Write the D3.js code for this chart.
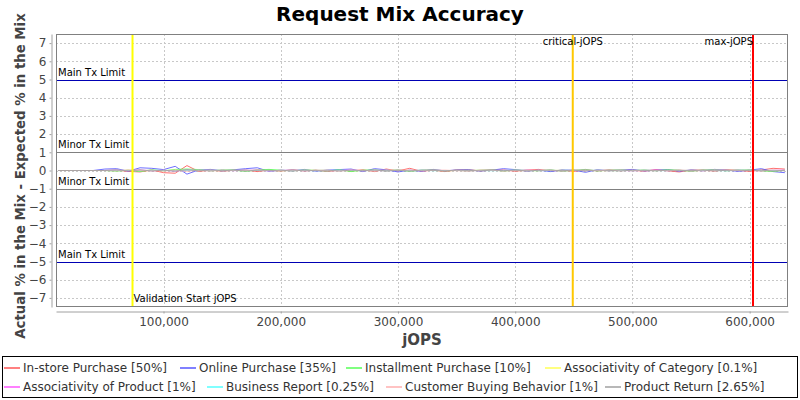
<!DOCTYPE html>
<html>
<head>
<meta charset="utf-8">
<script src="https://cdn.jsdelivr.net/npm/d3@7"></script>
<style>
  body { margin: 0; background: #fff; }
  svg { font-family: "DejaVu Sans", sans-serif; }
</style>
</head>
<body>
<script>
// jOPS steps of the RT curve
var jops = [10000, 20000, 30000, 40000, 50000, 60000, 70000, 80000, 90000, 100000,
  110000, 120000, 130000, 140000, 150000, 160000, 170000, 180000, 190000, 200000,
  210000, 220000, 230000, 240000, 250000, 260000, 270000, 280000, 290000, 300000,
  310000, 320000, 330000, 340000, 350000, 360000, 370000, 380000, 390000, 400000,
  410000, 420000, 430000, 440000, 450000, 460000, 470000, 480000, 490000, 500000,
  510000, 520000, 530000, 540000, 550000, 560000, 570000, 580000, 590000, 600000,
  610000, 620000, 630000];

var seriesNames = ["In-store Purchase [50%]", "Online Purchase [35%]", "Installment Purchase [10%]",
  "Associativity of Category [0.1%]", "Associativity of Product [1%]", "Business Report [0.25%]",
  "Customer Buying Behavior [1%]", "Product Return [2.65%]"];
var seriesColors = ["#ff5555", "#5555ff", "#55ff55", "#ffff55", "#ff55ff", "#55ffff", "#ffafaf", "#a0a0a0"];

var inStore = [0, 0, 0, 0, 0, 0.02, -0.05, -0.08, 0.03, -0.12,
  -0.15, 0.27, -0.05, 0.02, -0.04, 0.01, 0.03, -0.06, 0.02, -0.03,
  0.04, -0.02, 0.01, -0.05, 0.02, -0.03, 0.04, -0.06, 0.08, -0.02,
  0.12, -0.04, 0.02, -0.06, 0.03, 0.05, -0.02, 0.01, 0.03, -0.04,
  0.02, 0.06, -0.03, 0.02, -0.05, 0.04, -0.02, 0.03, -0.01, 0.02,
  -0.04, 0.05, -0.02, -0.08, 0.03, 0.02, -0.03, 0.04, 0.01, -0.05,
  0.03, 0.12, 0.08];
var online = [0, 0, 0, 0, 0.08, 0.1, -0.04, 0.15, 0.12, 0.05,
  0.23, -0.2, 0.03, 0.06, -0.02, 0.04, 0.1, 0.15, -0.05, 0.02,
  -0.03, 0.06, -0.04, 0.02, 0.05, 0.08, -0.06, 0.1, 0.04, -0.08,
  0.02, -0.05, 0.06, -0.02, 0.03, 0.04, -0.03, 0.02, 0.1, 0.05,
  -0.04, 0.02, -0.06, 0.03, 0.02, -0.1, 0.04, -0.02, 0.03, 0.06,
  -0.03, 0.02, 0.05, -0.04, 0.03, -0.02, 0.06, 0.03, -0.05, 0.02,
  0.1, -0.06, -0.12];
var installment = [0, 0, 0, 0, 0, -0.04, 0.02, -0.06, 0.04, -0.02,
  0.06, 0.08, 0.05, -0.03, 0.04, 0.02, -0.05, 0.03, 0.06, 0.02,
  -0.02, 0.03, 0.01, -0.04, 0.05, -0.06, 0.02, 0.03, -0.03, 0.04,
  -0.05, 0.02, 0.04, -0.02, 0.01, -0.03, 0.02, 0.05, -0.04, 0.03,
  0.01, -0.02, 0.04, -0.05, 0.02, 0.06, -0.03, 0.02, 0.04, -0.02,
  0.03, -0.01, 0.04, 0.02, -0.05, 0.03, 0.05, -0.02, 0.02, 0.04,
  -0.03, -0.05, 0.02];
var assocCategory = [0, 0, 0, 0, 0, 0, 0.01, 0, -0.01, 0,
  0.01, 0, 0, -0.01, 0, 0.01, 0, 0, 0, -0.01,
  0, 0, 0.01, 0, 0, 0, -0.01, 0, 0, 0.01,
  0, 0, 0, -0.01, 0, 0, 0.01, 0, 0, 0,
  -0.01, 0, 0, 0.01, 0, 0, 0, -0.01, 0, 0,
  0.01, 0, 0, 0, -0.01, 0, 0, 0.01, 0, 0,
  0, -0.01, 0];
var assocProduct = [0, 0, 0, 0, 0, 0.02, -0.01, 0.03, -0.02, 0.01,
  -0.03, 0.02, 0.01, -0.02, 0.02, -0.01, 0.01, 0.02, -0.02, 0.01,
  0.02, -0.01, 0.01, -0.02, 0.01, 0.02, -0.01, 0.01, -0.02, 0.02,
  -0.01, 0.01, 0.02, -0.01, 0.01, -0.02, 0.01, 0.02, -0.01, 0.01,
  0.02, -0.01, 0.01, -0.02, 0.01, 0.02, -0.01, 0.01, 0.01, -0.02,
  0.01, 0.02, -0.01, 0.01, -0.02, 0.01, 0.02, -0.01, 0.01, 0.01,
  -0.02, 0.01, 0.02];
var businessReport = [0, 0, 0, 0, 0, 0.01, 0, -0.01, 0.01, 0,
  -0.01, 0.01, 0, 0.01, -0.01, 0, 0.01, 0, -0.01, 0,
  0.01, 0, -0.01, 0, 0.01, 0, 0, -0.01, 0.01, 0,
  0, 0.01, -0.01, 0, 0, 0.01, 0, -0.01, 0, 0.01,
  0, 0, -0.01, 0.01, 0, 0, 0.01, -0.01, 0, 0,
  0.01, 0, -0.01, 0, 0.01, 0, 0, -0.01, 0.01, 0,
  0, 0.01, -0.01];
var buyingBehavior = [0, 0, 0, 0, 0, -0.02, 0.03, -0.01, 0.02, -0.03,
  0.02, -0.04, 0.01, 0.02, -0.02, 0.01, -0.01, 0.03, -0.02, 0.01,
  -0.02, 0.02, -0.01, 0.01, -0.03, 0.02, 0.01, -0.02, 0.03, -0.01,
  0.02, -0.02, 0.01, 0.02, -0.01, -0.02, 0.01, 0.02, -0.03, 0.01,
  -0.01, 0.02, 0.01, -0.02, 0.02, -0.01, 0.01, -0.02, 0.02, 0.01,
  -0.02, 0.01, -0.01, 0.02, 0.01, -0.02, 0.01, 0.02, -0.01, 0.01,
  -0.02, 0.03, -0.02];
var productReturn = [0, 0, 0, 0, 0, 0.03, -0.02, 0.04, -0.03, 0.02,
  -0.04, 0.05, -0.02, 0.03, -0.01, 0.02, -0.03, 0.02, 0.01, -0.02,
  0.03, -0.02, 0.01, 0.02, -0.03, 0.02, -0.01, 0.03, -0.02, 0.01,
  -0.03, 0.02, 0.01, -0.02, 0.02, 0.01, -0.02, 0.03, -0.01, 0.02,
  -0.02, 0.01, 0.02, -0.01, 0.01, -0.02, 0.02, 0.01, -0.03, 0.02,
  0.01, -0.02, 0.02, 0.01, -0.01, 0.02, -0.02, 0.01, 0.02, -0.01,
  0.02, -0.03, 0.01];

var seriesValues = [inStore, online, installment, assocCategory, assocProduct,
  businessReport, buyingBehavior, productReturn];

var xDomain = [8300, 632700];
var yDomain = [-7.5, 7.5];
var yTicks = [-7, -6, -5, -4, -3, -2, -1, 0, 1, 2, 3, 4, 5, 6, 7];
var xTicks = [100000, 200000, 300000, 400000, 500000, 600000];

var limitValues = [5, 1, -1, -5];
var limitLabels = ["Main Tx Limit", "Minor Tx Limit", "Minor Tx Limit", "Main Tx Limit"];
var limitColors = ["#0000b4", "#808080", "#808080", "#0000b4"];

var markerValues = [73570, 449100, 602850];
var markerLabels = ["Validation Start jOPS", "critical-jOPS", "max-jOPS"];
var markerColors = ["#ffff00", "#ffc800", "#ff0000"];

var width = 800, height = 400;
var plot = { left: 56, right: 788, top: 34, bottom: 307 };

var svg = d3.select("body").append("svg")
    .attr("width", width)
    .attr("height", height);

var x = d3.scaleLinear().domain(xDomain).range([plot.left, plot.right]);
var y = d3.scaleLinear().domain(yDomain).range([plot.bottom, plot.top]);

svg.append("text")
    .attr("x", 400)
    .attr("y", 21)
    .attr("text-anchor", "middle")
    .style("font-size", "20px")
    .style("font-weight", "bold")
    .text("Request Mix Accuracy");

// plot background + grid
svg.append("rect")
    .attr("x", plot.left).attr("y", plot.top)
    .attr("width", plot.right - plot.left).attr("height", plot.bottom - plot.top)
    .attr("fill", "#fff");

var grid = svg.append("g")
    .attr("stroke", "#c8c8c8")
    .attr("stroke-dasharray", "2,2")
    .attr("shape-rendering", "crispEdges");
grid.selectAll(".gx").data(xTicks).enter().append("line")
    .attr("x1", d => Math.round(x(d)) + 0.5).attr("x2", d => Math.round(x(d)) + 0.5)
    .attr("y1", plot.top).attr("y2", plot.bottom);
grid.selectAll(".gy").data(yTicks).enter().append("line")
    .attr("y1", d => Math.round(y(d)) + 0.5).attr("y2", d => Math.round(y(d)) + 0.5)
    .attr("x1", plot.left).attr("x2", plot.right);

svg.append("clipPath").attr("id", "clip")
  .append("rect")
    .attr("x", plot.left).attr("y", plot.top)
    .attr("width", plot.right - plot.left).attr("height", plot.bottom - plot.top);

var pg = svg.append("g").attr("clip-path", "url(#clip)");

// limit lines
pg.selectAll(".limit").data(limitValues).enter().append("line")
    .attr("x1", plot.left).attr("x2", plot.right)
    .attr("y1", d => Math.round(y(d)) + 0.5).attr("y2", d => Math.round(y(d)) + 0.5)
    .attr("stroke", (d, i) => limitColors[i])
    .attr("shape-rendering", "crispEdges");

pg.selectAll(".limitLabel").data(limitValues).enter().append("text")
    .attr("x", plot.left + 2)
    .attr("y", d => y(d) - 4)
    .style("font-size", "10px")
    .text((d, i) => limitLabels[i]);

// series
var line = d3.line()
    .x((d, i) => x(jops[i]))
    .y(d => y(d));

pg.selectAll(".series").data(seriesValues).enter().append("path")
    .attr("fill", "none")
    .attr("stroke", (d, i) => seriesColors[i])
    .attr("stroke-opacity", 0.85)
    .attr("stroke-width", 1)
    .attr("d", line);

// markers
pg.selectAll(".marker").data(markerValues).enter().append("line")
    .attr("x1", d => x(d)).attr("x2", d => x(d))
    .attr("y1", plot.top).attr("y2", plot.bottom)
    .attr("stroke", (d, i) => markerColors[i])
    .attr("stroke-width", 2);

var markerAnchor = ["start", "middle", "end"];
var markerDx = [1, 0, 0];
var markerY = [plot.bottom - 5, plot.top + 11, plot.top + 11];
pg.selectAll(".markerLabel").data(markerValues).enter().append("text")
    .attr("x", (d, i) => x(d) + markerDx[i])
    .attr("y", (d, i) => markerY[i])
    .attr("text-anchor", (d, i) => markerAnchor[i])
    .style("font-size", "10px")
    .text((d, i) => markerLabels[i]);

// plot border
svg.append("rect")
    .attr("x", plot.left + 0.5).attr("y", plot.top + 0.5)
    .attr("width", plot.right - plot.left - 1).attr("height", plot.bottom - plot.top - 1)
    .attr("fill", "none")
    .attr("stroke", "#808080")
    .attr("shape-rendering", "crispEdges");

// axes
var yAxis = svg.append("g")
    .attr("transform", "translate(51.5,0)")
    .call(d3.axisLeft(y).tickValues(yTicks).tickSize(2).tickPadding(3).tickSizeOuter(0));
var xAxis = svg.append("g")
    .attr("transform", "translate(0,311.5)")
    .call(d3.axisBottom(x).tickValues(xTicks).tickFormat(d3.format(",")).tickSize(2).tickPadding(4).tickSizeOuter(0));

[yAxis, xAxis].forEach(function(a) {
  a.selectAll(".domain").attr("stroke", "#a0a0a0");
  a.selectAll(".tick line").attr("stroke", "#a0a0a0");
  a.selectAll(".tick text")
      .attr("fill", "#444")
      .style("font-family", "DejaVu Sans, sans-serif")
      .style("font-size", "12px");
});

svg.append("text")
    .attr("x", (plot.left + plot.right) / 2)
    .attr("y", 345)
    .attr("text-anchor", "middle")
    .style("font-size", "15px")
    .style("font-weight", "bold")
    .attr("fill", "#444")
    .text("jOPS");

svg.append("text")
    .attr("transform", "translate(25,176) rotate(-90)")
    .attr("text-anchor", "middle")
    .style("font-size", "13.3px")
    .style("font-weight", "bold")
    .attr("fill", "#444")
    .text("Actual % in the Mix - Expected % in the Mix");

// legend
svg.append("rect")
    .attr("x", 2.5).attr("y", 356.5)
    .attr("width", 795).attr("height", 41)
    .attr("fill", "#fff")
    .attr("stroke", "#000");

var legendRows = [[0, 1, 2, 3], [4, 5, 6, 7]];
var legendRowY = [368, 387];
var legendItemX = [[4, 180, 346, 545], [4, 207, 386, 605]];
legendRows.forEach(function(row, r) {
  row.forEach(function(si, k) {
    var g = svg.append("g").attr("transform", `translate(${legendItemX[r][k]},${legendRowY[r]})`);
    g.append("line")
        .attr("x1", 0).attr("x2", 16)
        .attr("stroke", seriesColors[si])
        .attr("stroke-opacity", 0.75)
        .attr("stroke-width", 2);
    g.append("text")
        .attr("x", 19)
        .attr("dy", "0.35em")
        .style("font-size", "12px")
        .attr("fill", "#333")
        .text(seriesNames[si]);
  });
});
</script>
</body>
</html>
